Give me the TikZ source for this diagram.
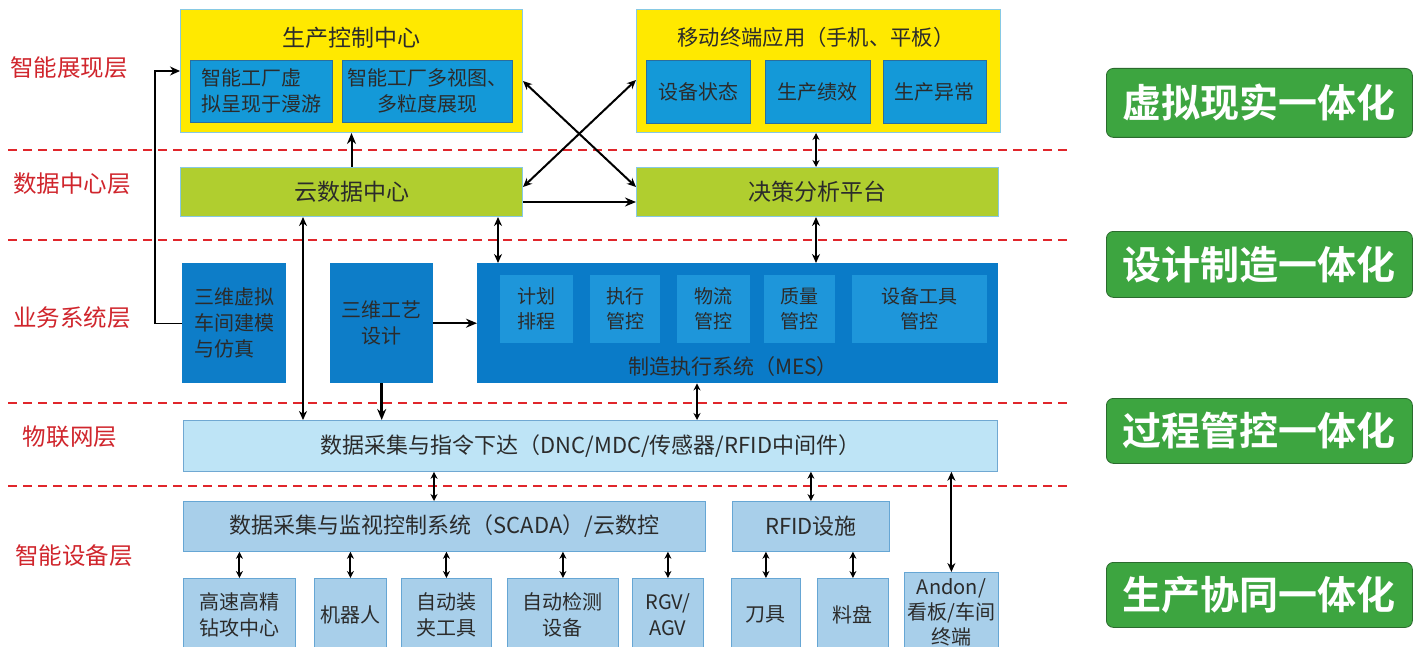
\documentclass[tikz,border=0pt]{standalone}
\usepackage{fontspec}
\setmainfont{Noto Sans CJK SC}[BoldFont={Noto Sans CJK SC Bold}]
\usetikzlibrary{arrows.meta,calc}
\definecolor{yelF}{HTML}{FFE900}
\definecolor{yelD}{HTML}{86C9E4}
\definecolor{blueIn}{HTML}{1499D8}
\definecolor{blueInD}{HTML}{2A6E9E}
\definecolor{grnF}{HTML}{B0CE2F}
\definecolor{mesF}{HTML}{0A7BC8}
\definecolor{mesIn}{HTML}{1E96DA}
\definecolor{darkBlue}{HTML}{0D7DC8}
\definecolor{lightF}{HTML}{BEE4F6}
\definecolor{lightD}{HTML}{70A8D2}
\definecolor{steelF}{HTML}{A8CFEA}
\definecolor{steelD}{HTML}{66A6D4}
\definecolor{badgeF}{HTML}{3DA540}
\definecolor{badgeD}{HTML}{2B6B2E}
\definecolor{layerRed}{HTML}{D0252C}
\definecolor{dashRed}{HTML}{E0262B}
\definecolor{txt}{HTML}{2B2B2B}
\tikzset{
  box/.style={anchor=north west, inner sep=0pt, align=center, text=txt},
  f19/.style={font=\fontsize{19}{25}\selectfont},
  f20/.style={font=\fontsize{20}{26}\selectfont},
  f22/.style={font=\fontsize{22}{27}\selectfont},
  f23/.style={font=\fontsize{23}{28}\selectfont},
  yelbox/.style={box, fill=yelF, draw=yelD, line width=1pt},
  bluebox/.style={box, fill=blueIn, draw=blueInD, line width=0.6pt, f20},
  grnbox/.style={box, fill=grnF, draw=yelD, line width=1pt, f23},
  darkbox/.style={box, fill=darkBlue, f20},
  mesinner/.style={box, fill=mesIn, f19},
  lightbox/.style={box, fill=lightF, draw=lightD, line width=0.8pt, f22},
  steelbox/.style={box, fill=steelF, draw=steelD, line width=0.8pt, f20},
  badge/.style={box, fill=badgeF, draw=badgeD, line width=0.8pt, rounded corners=7pt, text=white, font=\fontsize{39}{42}\selectfont\bfseries, minimum width=306pt},
  layer/.style={text=layerRed, font=\fontsize{23.5}{28}\selectfont},
  sep/.style={dashRed, line width=1.1pt, dash pattern=on 9pt off 6pt},
  arr/.style={line width=2pt, -{Stealth[length=11pt,width=9pt]}},
  dbl/.style={line width=2pt, {Stealth[length=9pt,width=8pt]}-{Stealth[length=9pt,width=8pt]}},
  sdbl/.style={line width=2pt, {Stealth[length=7pt,width=7pt]}-{Stealth[length=7pt,width=7pt]}},
  thin/.style={line width=1.4pt, -{Stealth[length=10pt,width=9pt]}}
}
\begin{document}
\begin{tikzpicture}[x=1pt,y=-1pt]
\useasboundingbox[fill=white] (0,0) rectangle (1423,647);
% separators
\foreach \yy in {150,240,403,486} \draw[sep] (8,\yy) -- (1072,\yy);
% layer labels
\node[layer] (L1) at (69,68) {智能展现层};
\node[layer] (L2) at (72,184) {数据中心层};
\node[layer] (L3) at (72,318) {业务系统层};
\node[layer] (L4) at (70,437) {物联网层};
\node[layer] (L5) at (74,556) {智能设备层};
% presentation layer
\node[yelbox, minimum width=342pt, minimum height=123pt] (ctrl) at (180,9) {};
\node[f23, text=txt] (ctrlT) at (351,38) {生产控制中心};
\node[bluebox, minimum width=142pt, minimum height=62pt, align=left] (ctrlA) at (190,60) {智能工厂虚\\拟呈现于漫游};
\node[bluebox, minimum width=170pt, minimum height=62pt] (ctrlB) at (342,60) {智能工厂多视图、\\多粒度展现};
\node[yelbox, minimum width=364pt, minimum height=123pt] (mob) at (636,9) {};
\node[font=\fontsize{21.3}{26}\selectfont, text=txt] (mobT) at (816,37) {移动终端应用（手机、平板）};
\node[bluebox, minimum width=104pt, minimum height=63pt] (mob1) at (646,60) {设备状态};
\node[bluebox, minimum width=105pt, minimum height=63pt] (mob2) at (765,60) {生产绩效};
\node[bluebox, minimum width=103pt, minimum height=63pt] (mob3) at (883,60) {生产异常};
% data center layer
\node[grnbox, minimum width=342pt, minimum height=49pt] (cloud) at (180,167) {云数据中心};
\node[grnbox, minimum width=362pt, minimum height=49pt] (dec) at (636,167) {决策分析平台};
% business layer
\node[darkbox, minimum width=104pt, minimum height=120pt, align=left] (sim) at (182,263) {三维虚拟\\车间建模\\与仿真};
\node[darkbox, minimum width=103pt, minimum height=120pt] (craft) at (330,263) {三维工艺\\设计};
\node[box, fill=mesF, minimum width=521pt, minimum height=120pt] (mes) at (477,263) {};
\node[mesinner, minimum width=73pt, minimum height=68pt] (m1) at (500,275) {计划\\排程};
\node[mesinner, minimum width=70pt, minimum height=68pt] (m2) at (590,275) {执行\\管控};
\node[mesinner, minimum width=73pt, minimum height=68pt] (m3) at (677,275) {物流\\管控};
\node[mesinner, minimum width=71pt, minimum height=68pt] (m4) at (764,275) {质量\\管控};
\node[mesinner, minimum width=135pt, minimum height=68pt] (m5) at (852,275) {设备工具\\管控};
\node[font=\fontsize{21}{26}\selectfont, text=txt] (mesT) at (733,367) {制造执行系统（MES）};
% IoT layer
\node[lightbox, minimum width=814pt, minimum height=51pt] (daq) at (183,420) {数据采集与指令下达（DNC/MDC/传感器/RFID中间件）};
% device layer
\node[steelbox, f22, minimum width=522pt, minimum height=50pt] (scada) at (183,501) {数据采集与监视控制系统（SCADA）/云数控};
\node[steelbox, f22, minimum width=157pt, minimum height=50pt] (rfid) at (732,501) {RFID设施};
\node[steelbox, minimum width=112pt, minimum height=72pt] (d1) at (183,578) {高速高精\\钻攻中心};
\node[steelbox, minimum width=72pt, minimum height=72pt] (d2) at (314,578) {机器人};
\node[steelbox, minimum width=90pt, minimum height=72pt] (d3) at (401,578) {自动装\\夹工具};
\node[steelbox, minimum width=111pt, minimum height=72pt] (d4) at (507,578) {自动检测\\设备};
\node[steelbox, minimum width=71pt, minimum height=72pt] (d5) at (632,578) {RGV/\\AGV};
\node[steelbox, minimum width=69pt, minimum height=72pt] (d6) at (731,578) {刀具};
\node[steelbox, minimum width=71pt, minimum height=72pt] (d7) at (817,578) {料盘};
\node[steelbox, minimum width=94pt, minimum height=80pt, font=\fontsize{20}{25}\selectfont] (andon) at (904,572) {Andon/\\看板/车间\\终端};
% badges
\node[badge, minimum height=69pt] (B1) at (1106,68) {虚拟现实一体化};
\node[badge, minimum height=66pt] (B2) at (1106,231) {设计制造一体化};
\node[badge, minimum height=65pt] (B3) at (1106,398) {过程管控一体化};
\node[badge, minimum height=65pt] (B4) at (1106,562) {生产协同一体化};
% connectors (yshift is in page direction: negative = down)
\draw[arr] (cloud.north) -- (ctrl.south);
\draw[dbl] ([yshift=-10pt]ctrl.east) -- ([yshift=5pt]dec.west);
\draw[dbl] ([yshift=5pt]cloud.east) -- ([yshift=-9pt]mob.west);
\draw[arr] ([yshift=-10pt]cloud.east) -- ([yshift=-10pt]dec.west);
\coordinate (xa) at ([xshift=180pt]dec.north west);
\draw[sdbl] (xa) -- (xa |- mob.south);
\coordinate (xb) at ([xshift=180pt]dec.south west);
\draw[dbl] (xb) -- (xb |- mes.north);
\coordinate (xc) at ([xshift=318pt]cloud.south west);
\draw[dbl] (xc) -- (xc |- mes.north);
\coordinate (xd) at ([xshift=123pt]cloud.south west);
\draw[dbl] (xd) -- (xd |- daq.north);
\draw[thin] (sim.west) -- ++(-27pt,0) |- (ctrl.west);
\draw[arr] (craft.east) -- (mes.west);
\draw[arr, line width=2.6pt] (craft.south) -- (craft.south |- daq.north);
\coordinate (xe) at ([xshift=220pt]mes.south west);
\draw[sdbl] (xe) -- (xe |- daq.north);
\coordinate (xf) at ([xshift=251pt]daq.south west);
\draw[sdbl] (xf) -- (xf |- scada.north);
\draw[sdbl] (daq.south -| rfid.north) -- (rfid.north);
\draw[dbl] (daq.south -| andon.north) -- (andon.north);
\foreach \d in {d1,d2,d3,d4,d5} \draw[sdbl] (scada.south -| \d.north) -- (\d.north);
\foreach \d in {d6,d7} \draw[sdbl] (rfid.south -| \d.north) -- (\d.north);
\end{tikzpicture}
\end{document}
